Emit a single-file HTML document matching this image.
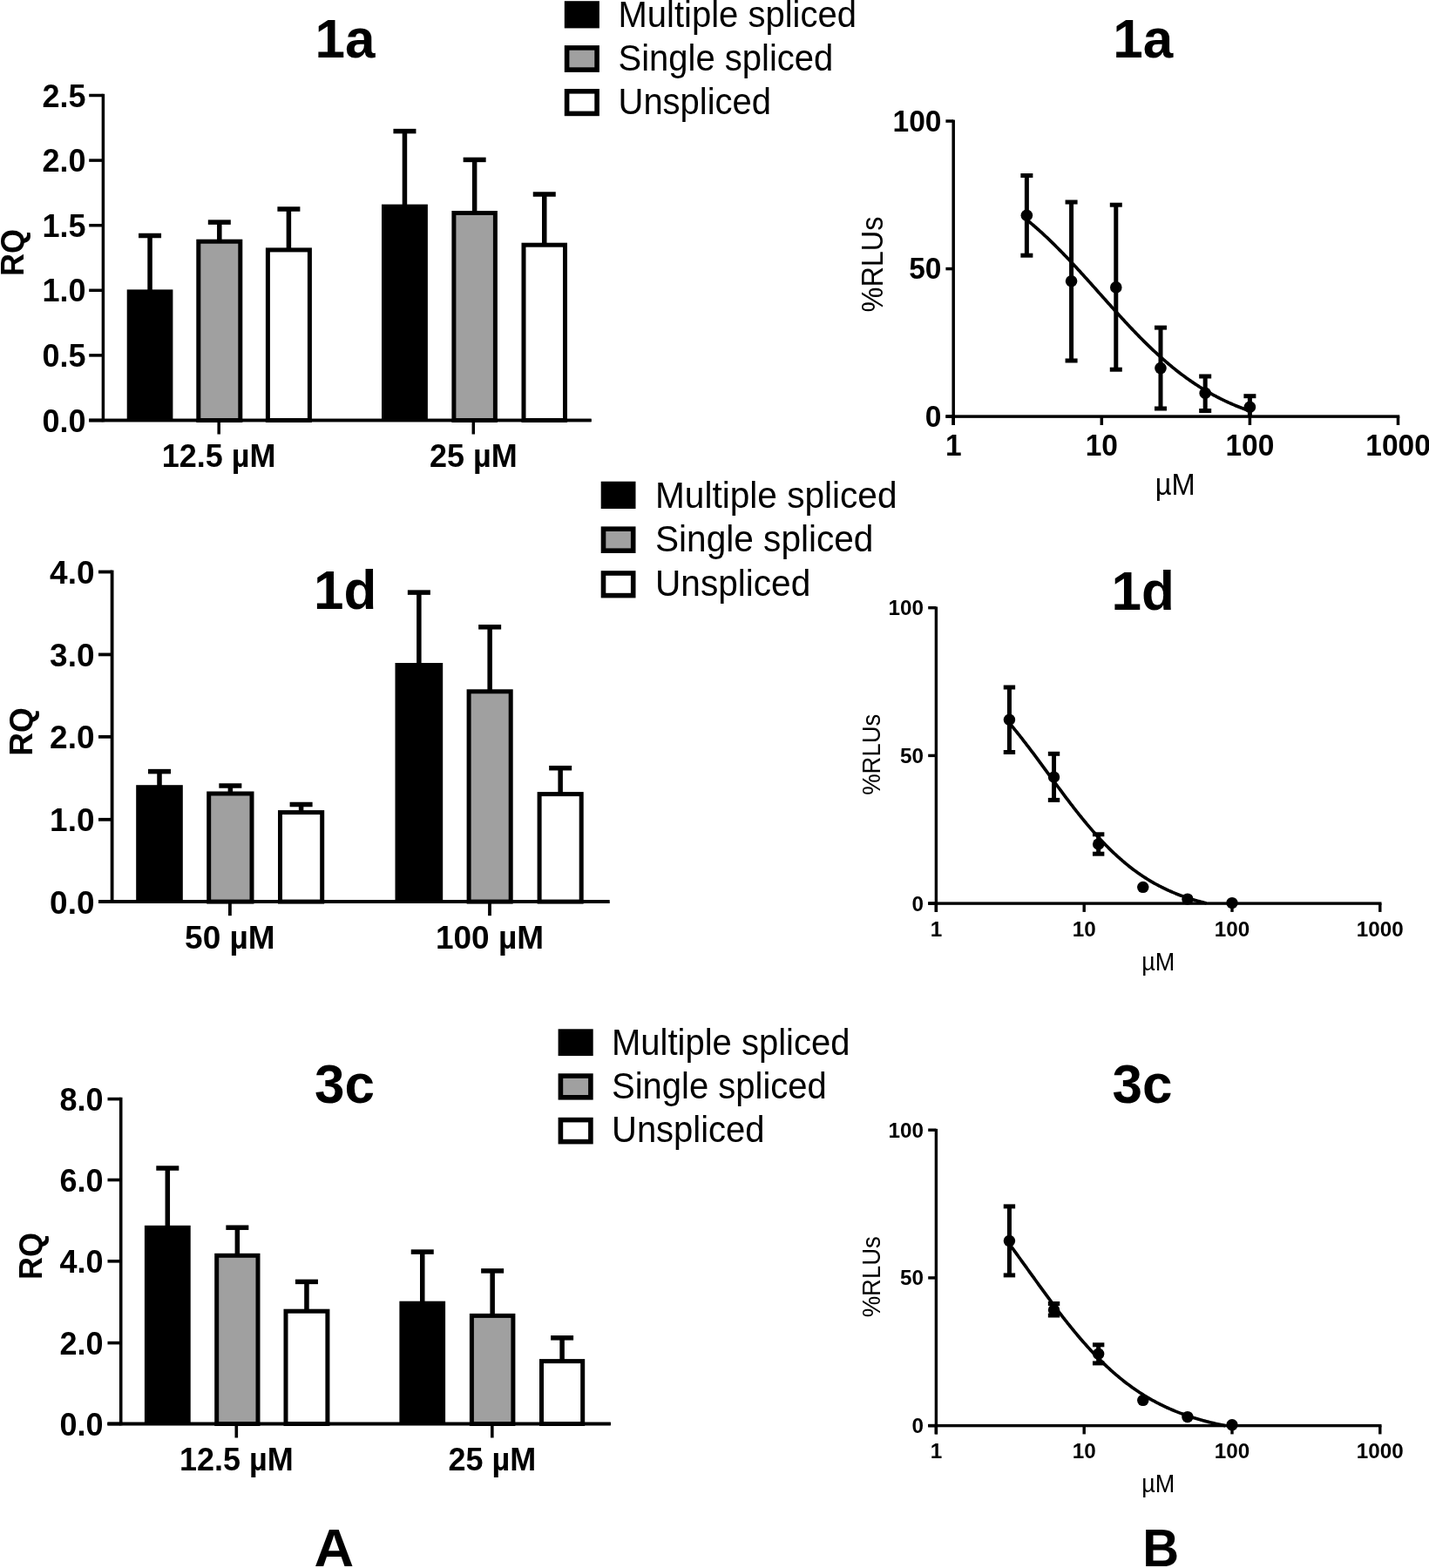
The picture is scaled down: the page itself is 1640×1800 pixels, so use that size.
<!DOCTYPE html>
<html><head><meta charset="utf-8"><title>Figure</title>
<style>html,body{margin:0;padding:0;background:#fff;width:1640px;height:1800px;overflow:hidden}svg{display:block;font-family:"Liberation Sans",sans-serif}</style>
</head><body>
<svg width="1640" height="1800" viewBox="0 0 1640 1800">
<rect width="1640" height="1800" fill="#fff"/>
<rect x="116.65" y="107.80" width="3.50" height="376.45"/>
<rect x="102.20" y="107.75" width="16.20" height="3.50"/>
<text transform="translate(98.50 122.50) scale(1.0 1.02)" font-size="36" font-weight="bold" text-anchor="end">2.5</text>
<rect x="102.20" y="182.35" width="16.20" height="3.50"/>
<text transform="translate(98.50 197.10) scale(1.0 1.02)" font-size="36" font-weight="bold" text-anchor="end">2.0</text>
<rect x="102.20" y="256.95" width="16.20" height="3.50"/>
<text transform="translate(98.50 271.70) scale(1.0 1.02)" font-size="36" font-weight="bold" text-anchor="end">1.5</text>
<rect x="102.20" y="331.55" width="16.20" height="3.50"/>
<text transform="translate(98.50 346.30) scale(1.0 1.02)" font-size="36" font-weight="bold" text-anchor="end">1.0</text>
<rect x="102.20" y="406.15" width="16.20" height="3.50"/>
<text transform="translate(98.50 420.90) scale(1.0 1.02)" font-size="36" font-weight="bold" text-anchor="end">0.5</text>
<rect x="102.20" y="480.75" width="16.20" height="3.50"/>
<text transform="translate(98.50 495.50) scale(1.0 1.02)" font-size="36" font-weight="bold" text-anchor="end">0.0</text>
<rect x="102.20" y="480.75" width="576.40" height="3.50"/>
<rect x="249.45" y="482.50" width="3.50" height="16.00"/>
<text transform="translate(251.20 536.00) scale(1.0 1.02)" font-size="36" font-weight="bold" text-anchor="middle">12.5 µM</text>
<rect x="541.55" y="482.50" width="3.50" height="16.00"/>
<text transform="translate(543.30 536.00) scale(1.0 1.02)" font-size="36" font-weight="bold" text-anchor="middle">25 µM</text>
<rect x="169.30" y="270.50" width="5.50" height="63.90"/>
<rect x="159.05" y="267.75" width="26.00" height="5.50"/>
<rect x="145.70" y="332.40" width="52.70" height="150.10"/>
<rect x="249.05" y="255.10" width="5.50" height="21.60"/>
<rect x="238.80" y="252.35" width="26.00" height="5.50"/>
<rect x="227.80" y="277.20" width="48.00" height="205.30" fill="#a0a0a0" stroke="#000" stroke-width="5"/>
<rect x="328.65" y="240.00" width="5.50" height="46.40"/>
<rect x="318.40" y="237.25" width="26.00" height="5.50"/>
<rect x="307.40" y="286.90" width="48.00" height="195.60" fill="#fff" stroke="#000" stroke-width="5"/>
<rect x="461.70" y="150.60" width="5.50" height="86.00"/>
<rect x="451.45" y="147.85" width="26.00" height="5.50"/>
<rect x="438.00" y="234.60" width="52.90" height="247.90"/>
<rect x="541.90" y="183.40" width="5.50" height="60.60"/>
<rect x="531.65" y="180.65" width="26.00" height="5.50"/>
<rect x="520.90" y="244.50" width="47.50" height="238.00" fill="#a0a0a0" stroke="#000" stroke-width="5"/>
<rect x="622.00" y="223.00" width="5.50" height="57.70"/>
<rect x="611.75" y="220.25" width="26.00" height="5.50"/>
<rect x="601.00" y="281.20" width="47.50" height="201.30" fill="#fff" stroke="#000" stroke-width="5"/>
<rect x="102.20" y="480.75" width="576.40" height="3.50"/>
<text transform="translate(27.10 290.10) rotate(-90) scale(1.0 1.02)" font-size="36" font-weight="bold" text-anchor="middle">RQ</text>
<text transform="translate(361.50 66.30) scale(1.0 1.03)" font-size="62" font-weight="bold" text-anchor="start">1a</text>
<rect x="126.70" y="654.60" width="3.80" height="382.40"/>
<rect x="113.00" y="654.60" width="15.60" height="3.80"/>
<text transform="translate(108.50 670.00) scale(1.0 1.02)" font-size="37" font-weight="bold" text-anchor="end">4.0</text>
<rect x="113.00" y="749.50" width="15.60" height="3.80"/>
<text transform="translate(108.50 764.90) scale(1.0 1.02)" font-size="37" font-weight="bold" text-anchor="end">3.0</text>
<rect x="113.00" y="843.90" width="15.60" height="3.80"/>
<text transform="translate(108.50 859.30) scale(1.0 1.02)" font-size="37" font-weight="bold" text-anchor="end">2.0</text>
<rect x="113.00" y="938.90" width="15.60" height="3.80"/>
<text transform="translate(108.50 954.30) scale(1.0 1.02)" font-size="37" font-weight="bold" text-anchor="end">1.0</text>
<rect x="113.00" y="1033.20" width="15.60" height="3.80"/>
<text transform="translate(108.50 1048.60) scale(1.0 1.02)" font-size="37" font-weight="bold" text-anchor="end">0.0</text>
<rect x="113.00" y="1033.20" width="586.50" height="3.80"/>
<rect x="262.00" y="1035.10" width="3.80" height="16.10"/>
<text transform="translate(263.90 1089.20) scale(1.0 1.02)" font-size="37" font-weight="bold" text-anchor="middle">50 µM</text>
<rect x="560.10" y="1035.10" width="3.80" height="16.10"/>
<text transform="translate(562.00 1089.20) scale(1.0 1.02)" font-size="37" font-weight="bold" text-anchor="middle">100 µM</text>
<rect x="180.25" y="885.60" width="5.50" height="17.60"/>
<rect x="170.00" y="882.85" width="26.00" height="5.50"/>
<rect x="156.20" y="901.20" width="53.60" height="133.90"/>
<rect x="261.60" y="902.00" width="5.50" height="8.50"/>
<rect x="251.35" y="899.25" width="26.00" height="5.50"/>
<rect x="239.70" y="911.00" width="49.30" height="124.10" fill="#a0a0a0" stroke="#000" stroke-width="5"/>
<rect x="342.85" y="923.50" width="5.50" height="8.60"/>
<rect x="332.60" y="920.75" width="26.00" height="5.50"/>
<rect x="321.50" y="932.60" width="48.20" height="102.50" fill="#fff" stroke="#000" stroke-width="5"/>
<rect x="478.10" y="680.10" width="5.50" height="82.90"/>
<rect x="467.85" y="677.35" width="26.00" height="5.50"/>
<rect x="453.50" y="761.00" width="54.70" height="274.10"/>
<rect x="559.40" y="719.80" width="5.50" height="73.50"/>
<rect x="549.15" y="717.05" width="26.00" height="5.50"/>
<rect x="538.10" y="793.80" width="48.10" height="241.30" fill="#a0a0a0" stroke="#000" stroke-width="5"/>
<rect x="640.40" y="881.70" width="5.50" height="29.40"/>
<rect x="630.15" y="878.95" width="26.00" height="5.50"/>
<rect x="619.10" y="911.60" width="48.10" height="123.50" fill="#fff" stroke="#000" stroke-width="5"/>
<rect x="113.00" y="1033.20" width="586.50" height="3.80"/>
<text transform="translate(36.80 839.90) rotate(-90) scale(1.0 1.02)" font-size="37" font-weight="bold" text-anchor="middle">RQ</text>
<text transform="translate(360.00 699.40) scale(1.0 1.03)" font-size="62" font-weight="bold" text-anchor="start">1d</text>
<rect x="136.90" y="1259.80" width="3.60" height="376.50"/>
<rect x="123.50" y="1259.80" width="15.20" height="3.60"/>
<text transform="translate(118.50 1274.80) scale(1.0 1.02)" font-size="36" font-weight="bold" text-anchor="end">8.0</text>
<rect x="123.50" y="1352.70" width="15.20" height="3.60"/>
<text transform="translate(118.50 1367.70) scale(1.0 1.02)" font-size="36" font-weight="bold" text-anchor="end">6.0</text>
<rect x="123.50" y="1446.00" width="15.20" height="3.60"/>
<text transform="translate(118.50 1461.00) scale(1.0 1.02)" font-size="36" font-weight="bold" text-anchor="end">4.0</text>
<rect x="123.50" y="1539.80" width="15.20" height="3.60"/>
<text transform="translate(118.50 1554.80) scale(1.0 1.02)" font-size="36" font-weight="bold" text-anchor="end">2.0</text>
<rect x="123.50" y="1632.70" width="15.20" height="3.60"/>
<text transform="translate(118.50 1647.70) scale(1.0 1.02)" font-size="36" font-weight="bold" text-anchor="end">0.0</text>
<rect x="123.50" y="1632.70" width="577.30" height="3.60"/>
<rect x="269.50" y="1634.50" width="3.60" height="16.00"/>
<text transform="translate(271.30 1688.00) scale(1.0 1.02)" font-size="36" font-weight="bold" text-anchor="middle">12.5 µM</text>
<rect x="563.00" y="1634.50" width="3.60" height="16.00"/>
<text transform="translate(564.80 1688.00) scale(1.0 1.02)" font-size="36" font-weight="bold" text-anchor="middle">25 µM</text>
<rect x="189.55" y="1341.00" width="5.50" height="67.80"/>
<rect x="179.30" y="1338.25" width="26.00" height="5.50"/>
<rect x="165.90" y="1406.80" width="52.80" height="227.70"/>
<rect x="269.60" y="1409.20" width="5.50" height="31.60"/>
<rect x="259.35" y="1406.45" width="26.00" height="5.50"/>
<rect x="248.70" y="1441.30" width="47.30" height="193.20" fill="#a0a0a0" stroke="#000" stroke-width="5"/>
<rect x="349.20" y="1471.40" width="5.50" height="33.30"/>
<rect x="338.95" y="1468.65" width="26.00" height="5.50"/>
<rect x="328.00" y="1505.20" width="47.90" height="129.30" fill="#fff" stroke="#000" stroke-width="5"/>
<rect x="482.00" y="1437.10" width="5.50" height="58.60"/>
<rect x="471.75" y="1434.35" width="26.00" height="5.50"/>
<rect x="458.40" y="1493.70" width="52.70" height="140.80"/>
<rect x="562.40" y="1458.90" width="5.50" height="51.00"/>
<rect x="552.15" y="1456.15" width="26.00" height="5.50"/>
<rect x="541.40" y="1510.40" width="47.50" height="124.10" fill="#a0a0a0" stroke="#000" stroke-width="5"/>
<rect x="642.35" y="1535.80" width="5.50" height="26.30"/>
<rect x="632.10" y="1533.05" width="26.00" height="5.50"/>
<rect x="621.50" y="1562.60" width="47.20" height="71.90" fill="#fff" stroke="#000" stroke-width="5"/>
<rect x="123.50" y="1632.70" width="577.30" height="3.60"/>
<text transform="translate(47.90 1442.10) rotate(-90) scale(1.0 1.02)" font-size="36" font-weight="bold" text-anchor="middle">RQ</text>
<text transform="translate(361.00 1266.30) scale(1.0 1.03)" font-size="62" font-weight="bold" text-anchor="start">3c</text>
<rect x="647.80" y="1.20" width="40.10" height="31.20"/>
<text transform="translate(709.50 31.30) scale(1.0 1.04)" font-size="40" text-anchor="start">Multiple spliced</text>
<rect x="650.60" y="54.90" width="34.50" height="25.20" fill="#a0a0a0" stroke="#000" stroke-width="5.6"/>
<text transform="translate(709.50 81.10) scale(1.0 1.04)" font-size="40" text-anchor="start">Single spliced</text>
<rect x="650.60" y="104.80" width="34.50" height="25.60" fill="#fff" stroke="#000" stroke-width="5.6"/>
<text transform="translate(709.50 130.90) scale(1.0 1.04)" font-size="40" text-anchor="start">Unspliced</text>
<rect x="689.70" y="552.70" width="39.80" height="31.30"/>
<text transform="translate(752.00 582.90) scale(1.0 1.04)" font-size="40.6" text-anchor="start">Multiple spliced</text>
<rect x="692.50" y="607.20" width="34.20" height="25.00" fill="#a0a0a0" stroke="#000" stroke-width="5.6"/>
<text transform="translate(752.00 632.70) scale(1.0 1.04)" font-size="40.6" text-anchor="start">Single spliced</text>
<rect x="692.50" y="658.00" width="34.20" height="25.60" fill="#fff" stroke="#000" stroke-width="5.6"/>
<text transform="translate(752.00 683.70) scale(1.0 1.04)" font-size="40.6" text-anchor="start">Unspliced</text>
<rect x="640.60" y="1181.30" width="40.10" height="30.80"/>
<text transform="translate(702.00 1210.50) scale(1.0 1.04)" font-size="40" text-anchor="start">Multiple spliced</text>
<rect x="643.40" y="1235.10" width="34.50" height="24.70" fill="#a0a0a0" stroke="#000" stroke-width="5.6"/>
<text transform="translate(702.00 1260.80) scale(1.0 1.04)" font-size="40" text-anchor="start">Single spliced</text>
<rect x="643.40" y="1285.60" width="34.50" height="25.00" fill="#fff" stroke="#000" stroke-width="5.6"/>
<text transform="translate(702.00 1311.10) scale(1.0 1.04)" font-size="40" text-anchor="start">Unspliced</text>
<rect x="1092.45" y="137.60" width="3.50" height="350.40"/>
<rect x="1085.40" y="137.28" width="8.80" height="3.50"/>
<text transform="translate(1080.50 150.83) scale(1.0 1.02)" font-size="33.5" font-weight="bold" text-anchor="end">100</text>
<rect x="1085.40" y="306.82" width="8.80" height="3.50"/>
<text transform="translate(1080.50 320.37) scale(1.0 1.02)" font-size="33.5" font-weight="bold" text-anchor="end">50</text>
<rect x="1085.40" y="476.35" width="8.80" height="3.50"/>
<text transform="translate(1080.50 489.90) scale(1.0 1.02)" font-size="33.5" font-weight="bold" text-anchor="end">0</text>
<rect x="1085.40" y="476.35" width="520.85" height="3.50"/>
<rect x="1092.45" y="478.10" width="3.50" height="9.90"/>
<text transform="translate(1094.20 523.30) scale(1.0 1.02)" font-size="33.5" font-weight="bold" text-anchor="middle">1</text>
<rect x="1262.55" y="478.10" width="3.50" height="9.90"/>
<text transform="translate(1264.30 523.30) scale(1.0 1.02)" font-size="33.5" font-weight="bold" text-anchor="middle">10</text>
<rect x="1432.65" y="478.10" width="3.50" height="9.90"/>
<text transform="translate(1434.40 523.30) scale(1.0 1.02)" font-size="33.5" font-weight="bold" text-anchor="middle">100</text>
<rect x="1602.75" y="478.10" width="3.50" height="9.90"/>
<text transform="translate(1604.50 523.30) scale(1.0 1.02)" font-size="33.5" font-weight="bold" text-anchor="middle">1000</text>
<path d="M1178.37,252.30 L1179.66,253.35 L1180.95,254.41 L1182.23,255.48 L1183.52,256.57 L1184.81,257.66 L1186.09,258.76 L1187.38,259.87 L1188.67,260.99 L1189.95,262.12 L1191.24,263.26 L1192.53,264.41 L1193.81,265.57 L1195.10,266.74 L1196.39,267.91 L1197.67,269.10 L1198.96,270.29 L1200.25,271.50 L1201.53,272.71 L1202.82,273.93 L1204.11,275.16 L1205.39,276.40 L1206.68,277.64 L1207.96,278.90 L1209.25,280.16 L1210.54,281.43 L1211.82,282.71 L1213.11,283.99 L1214.40,285.28 L1215.68,286.58 L1216.97,287.89 L1218.26,289.21 L1219.54,290.53 L1220.83,291.86 L1222.12,293.19 L1223.40,294.53 L1224.69,295.88 L1225.98,297.24 L1227.26,298.60 L1228.55,299.96 L1229.84,301.33 L1231.12,302.71 L1232.41,304.09 L1233.70,305.48 L1234.98,306.87 L1236.27,308.27 L1237.56,309.67 L1238.84,311.08 L1240.13,312.49 L1241.42,313.90 L1242.70,315.32 L1243.99,316.74 L1245.28,318.16 L1246.56,319.59 L1247.85,321.02 L1249.13,322.45 L1250.42,323.88 L1251.71,325.32 L1252.99,326.76 L1254.28,328.20 L1255.57,329.64 L1256.85,331.08 L1258.14,332.52 L1259.43,333.97 L1260.71,335.41 L1262.00,336.86 L1263.29,338.30 L1264.57,339.75 L1265.86,341.19 L1267.15,342.63 L1268.43,344.08 L1269.72,345.52 L1271.01,346.96 L1272.29,348.40 L1273.58,349.83 L1274.87,351.27 L1276.15,352.70 L1277.44,354.13 L1278.73,355.56 L1280.01,356.98 L1281.30,358.41 L1282.59,359.82 L1283.87,361.24 L1285.16,362.65 L1286.45,364.06 L1287.73,365.46 L1289.02,366.86 L1290.30,368.25 L1291.59,369.64 L1292.88,371.03 L1294.16,372.40 L1295.45,373.78 L1296.74,375.15 L1298.02,376.51 L1299.31,377.87 L1300.60,379.22 L1301.88,380.56 L1303.17,381.90 L1304.46,383.23 L1305.74,384.55 L1307.03,385.87 L1308.32,387.18 L1309.60,388.48 L1310.89,389.78 L1312.18,391.07 L1313.46,392.35 L1314.75,393.62 L1316.04,394.89 L1317.32,396.14 L1318.61,397.39 L1319.90,398.63 L1321.18,399.87 L1322.47,401.09 L1323.76,402.30 L1325.04,403.51 L1326.33,404.71 L1327.62,405.90 L1328.90,407.08 L1330.19,408.25 L1331.47,409.41 L1332.76,410.56 L1334.05,411.71 L1335.33,412.84 L1336.62,413.96 L1337.91,415.08 L1339.19,416.18 L1340.48,417.28 L1341.77,418.37 L1343.05,419.44 L1344.34,420.51 L1345.63,421.57 L1346.91,422.61 L1348.20,423.65 L1349.49,424.68 L1350.77,425.70 L1352.06,426.70 L1353.35,427.70 L1354.63,428.69 L1355.92,429.67 L1357.21,430.63 L1358.49,431.59 L1359.78,432.54 L1361.07,433.48 L1362.35,434.41 L1363.64,435.33 L1364.93,436.24 L1366.21,437.13 L1367.50,438.02 L1368.79,438.90 L1370.07,439.77 L1371.36,440.63 L1372.64,441.48 L1373.93,442.32 L1375.22,443.15 L1376.50,443.97 L1377.79,444.78 L1379.08,445.58 L1380.36,446.38 L1381.65,447.16 L1382.94,447.93 L1384.22,448.70 L1385.51,449.45 L1386.80,450.20 L1388.08,450.93 L1389.37,451.66 L1390.66,452.38 L1391.94,453.08 L1393.23,453.78 L1394.52,454.47 L1395.80,455.16 L1397.09,455.83 L1398.38,456.49 L1399.66,457.15 L1400.95,457.80 L1402.24,458.43 L1403.52,459.06 L1404.81,459.69 L1406.10,460.30 L1407.38,460.90 L1408.67,461.50 L1409.96,462.09 L1411.24,462.67 L1412.53,463.24 L1413.81,463.81 L1415.10,464.36 L1416.39,464.91 L1417.67,465.45 L1418.96,465.99 L1420.25,466.51 L1421.53,467.03 L1422.82,467.54 L1424.11,468.05 L1425.39,468.55 L1426.68,469.03 L1427.97,469.52 L1429.25,469.99 L1430.54,470.46 L1431.83,470.92 L1433.11,471.38 L1434.40,471.83" fill="none" stroke="#000" stroke-width="3.7" stroke-linejoin="round"/>
<rect x="1175.87" y="201.50" width="5.00" height="91.70"/>
<rect x="1171.37" y="199.00" width="14.00" height="5.00"/>
<rect x="1171.37" y="290.70" width="14.00" height="5.00"/>
<circle cx="1178.37" cy="247.30" r="6.8"/>
<rect x="1227.08" y="232.00" width="5.00" height="182.00"/>
<rect x="1222.58" y="229.50" width="14.00" height="5.00"/>
<rect x="1222.58" y="411.50" width="14.00" height="5.00"/>
<circle cx="1229.58" cy="322.70" r="6.8"/>
<rect x="1278.28" y="235.20" width="5.00" height="189.00"/>
<rect x="1273.78" y="232.70" width="14.00" height="5.00"/>
<rect x="1273.78" y="421.70" width="14.00" height="5.00"/>
<circle cx="1280.78" cy="329.90" r="6.8"/>
<rect x="1329.49" y="376.10" width="5.00" height="92.90"/>
<rect x="1324.99" y="373.60" width="14.00" height="5.00"/>
<rect x="1324.99" y="466.50" width="14.00" height="5.00"/>
<circle cx="1331.99" cy="422.60" r="6.8"/>
<rect x="1380.69" y="432.00" width="5.00" height="39.50"/>
<rect x="1376.19" y="429.50" width="14.00" height="5.00"/>
<rect x="1376.19" y="469.00" width="14.00" height="5.00"/>
<circle cx="1383.19" cy="451.20" r="6.8"/>
<rect x="1431.90" y="454.70" width="5.00" height="23.40"/>
<rect x="1427.40" y="452.20" width="14.00" height="5.00"/>
<circle cx="1434.40" cy="467.30" r="6.8"/>
<text transform="translate(1013.30 303.50) rotate(-90) scale(1.0 1.065)" font-size="32.4" text-anchor="middle">%RLUs</text>
<text transform="translate(1348.60 568.00) scale(1.0 1.065)" font-size="32.6" text-anchor="middle">µM</text>
<text transform="translate(1277.20 66.30) scale(1.0 1.03)" font-size="62" font-weight="bold" text-anchor="start">1a</text>
<rect x="1072.70" y="696.50" width="3.40" height="350.40"/>
<rect x="1065.20" y="696.00" width="9.20" height="3.40"/>
<text transform="translate(1060.00 706.20) scale(1.0 1.02)" font-size="24.3" font-weight="bold" text-anchor="end">100</text>
<rect x="1065.20" y="865.70" width="9.20" height="3.40"/>
<text transform="translate(1060.00 875.90) scale(1.0 1.02)" font-size="24.3" font-weight="bold" text-anchor="end">50</text>
<rect x="1065.20" y="1035.40" width="9.20" height="3.40"/>
<text transform="translate(1060.00 1045.60) scale(1.0 1.02)" font-size="24.3" font-weight="bold" text-anchor="end">0</text>
<rect x="1065.20" y="1035.40" width="520.30" height="3.40"/>
<rect x="1072.70" y="1037.10" width="3.40" height="9.80"/>
<text transform="translate(1074.40 1074.50) scale(1.0 1.02)" font-size="24.3" font-weight="bold" text-anchor="middle">1</text>
<rect x="1242.50" y="1037.10" width="3.40" height="9.80"/>
<text transform="translate(1244.20 1074.50) scale(1.0 1.02)" font-size="24.3" font-weight="bold" text-anchor="middle">10</text>
<rect x="1412.30" y="1037.10" width="3.40" height="9.80"/>
<text transform="translate(1414.00 1074.50) scale(1.0 1.02)" font-size="24.3" font-weight="bold" text-anchor="middle">100</text>
<rect x="1582.10" y="1037.10" width="3.40" height="9.80"/>
<text transform="translate(1583.80 1074.50) scale(1.0 1.02)" font-size="24.3" font-weight="bold" text-anchor="middle">1000</text>
<path d="M1158.43,830.06 L1159.71,831.59 L1160.99,833.13 L1162.28,834.68 L1163.56,836.24 L1164.85,837.81 L1166.13,839.40 L1167.42,840.99 L1168.70,842.59 L1169.98,844.21 L1171.27,845.83 L1172.55,847.46 L1173.84,849.11 L1175.12,850.76 L1176.41,852.42 L1177.69,854.08 L1178.97,855.76 L1180.26,857.44 L1181.54,859.13 L1182.83,860.82 L1184.11,862.52 L1185.40,864.23 L1186.68,865.94 L1187.96,867.66 L1189.25,869.38 L1190.53,871.11 L1191.82,872.84 L1193.10,874.58 L1194.39,876.32 L1195.67,878.06 L1196.95,879.80 L1198.24,881.55 L1199.52,883.29 L1200.81,885.04 L1202.09,886.79 L1203.38,888.54 L1204.66,890.29 L1205.94,892.04 L1207.23,893.79 L1208.51,895.54 L1209.80,897.28 L1211.08,899.03 L1212.37,900.77 L1213.65,902.51 L1214.93,904.25 L1216.22,905.98 L1217.50,907.71 L1218.79,909.43 L1220.07,911.15 L1221.36,912.87 L1222.64,914.58 L1223.92,916.28 L1225.21,917.98 L1226.49,919.67 L1227.78,921.35 L1229.06,923.03 L1230.35,924.70 L1231.63,926.36 L1232.91,928.02 L1234.20,929.66 L1235.48,931.30 L1236.77,932.92 L1238.05,934.54 L1239.34,936.15 L1240.62,937.75 L1241.90,939.34 L1243.19,940.91 L1244.47,942.48 L1245.76,944.04 L1247.04,945.58 L1248.33,947.11 L1249.61,948.63 L1250.89,950.14 L1252.18,951.64 L1253.46,953.13 L1254.75,954.60 L1256.03,956.06 L1257.32,957.51 L1258.60,958.94 L1259.88,960.36 L1261.17,961.77 L1262.45,963.16 L1263.74,964.54 L1265.02,965.91 L1266.31,967.26 L1267.59,968.60 L1268.87,969.93 L1270.16,971.24 L1271.44,972.54 L1272.73,973.82 L1274.01,975.09 L1275.30,976.34 L1276.58,977.58 L1277.86,978.81 L1279.15,980.02 L1280.43,981.22 L1281.72,982.40 L1283.00,983.57 L1284.29,984.72 L1285.57,985.86 L1286.85,986.98 L1288.14,988.09 L1289.42,989.19 L1290.71,990.27 L1291.99,991.34 L1293.28,992.39 L1294.56,993.43 L1295.84,994.45 L1297.13,995.47 L1298.41,996.46 L1299.70,997.44 L1300.98,998.41 L1302.27,999.37 L1303.55,1000.31 L1304.84,1001.23 L1306.12,1002.15 L1307.40,1003.05 L1308.69,1003.94 L1309.97,1004.81 L1311.26,1005.67 L1312.54,1006.52 L1313.83,1007.35 L1315.11,1008.17 L1316.39,1008.98 L1317.68,1009.77 L1318.96,1010.56 L1320.25,1011.33 L1321.53,1012.09 L1322.82,1012.83 L1324.10,1013.57 L1325.38,1014.29 L1326.67,1015.00 L1327.95,1015.70 L1329.24,1016.39 L1330.52,1017.06 L1331.81,1017.73 L1333.09,1018.38 L1334.37,1019.02 L1335.66,1019.65 L1336.94,1020.27 L1338.23,1020.88 L1339.51,1021.48 L1340.80,1022.07 L1342.08,1022.65 L1343.36,1023.22 L1344.65,1023.78 L1345.93,1024.33 L1347.22,1024.87 L1348.50,1025.40 L1349.79,1025.92 L1351.07,1026.43 L1352.35,1026.93 L1353.64,1027.42 L1354.92,1027.91 L1356.21,1028.38 L1357.49,1028.85 L1358.78,1029.31 L1360.06,1029.76 L1361.34,1030.20 L1362.63,1030.63 L1363.91,1031.06 L1365.20,1031.47 L1366.48,1031.88 L1367.77,1032.29 L1369.05,1032.68 L1370.33,1033.07 L1371.62,1033.45 L1372.90,1033.82 L1374.19,1034.19 L1375.47,1034.54 L1376.76,1034.90 L1378.04,1035.24 L1379.32,1035.58 L1380.61,1035.91 L1381.89,1036.24 L1383.18,1036.56 L1384.46,1036.87" fill="none" stroke="#000" stroke-width="3.7" stroke-linejoin="round"/>
<rect x="1155.93" y="789.00" width="5.00" height="74.50"/>
<rect x="1151.73" y="786.50" width="13.40" height="5.00"/>
<rect x="1151.73" y="861.00" width="13.40" height="5.00"/>
<circle cx="1158.43" cy="826.30" r="6.7"/>
<rect x="1207.04" y="865.30" width="5.00" height="53.10"/>
<rect x="1202.84" y="862.80" width="13.40" height="5.00"/>
<rect x="1202.84" y="915.90" width="13.40" height="5.00"/>
<circle cx="1209.54" cy="892.10" r="6.7"/>
<rect x="1258.16" y="957.80" width="5.00" height="22.40"/>
<rect x="1253.96" y="955.30" width="13.40" height="5.00"/>
<rect x="1253.96" y="977.70" width="13.40" height="5.00"/>
<circle cx="1260.66" cy="969.00" r="6.7"/>
<circle cx="1311.77" cy="1018.40" r="6.7"/>
<circle cx="1362.89" cy="1032.10" r="6.7"/>
<circle cx="1414.00" cy="1036.60" r="6.7"/>
<text transform="translate(1010.00 866.30) rotate(-90) scale(1.0 1.065)" font-size="27.5" text-anchor="middle">%RLUs</text>
<text transform="translate(1329.20 1113.90) scale(1.0 1.065)" font-size="27" text-anchor="middle">µM</text>
<text transform="translate(1275.50 700.10) scale(1.0 1.03)" font-size="62" font-weight="bold" text-anchor="start">1d</text>
<rect x="1072.70" y="1295.90" width="3.40" height="350.50"/>
<rect x="1065.20" y="1295.50" width="9.20" height="3.40"/>
<text transform="translate(1060.00 1305.70) scale(1.0 1.02)" font-size="24.3" font-weight="bold" text-anchor="end">100</text>
<rect x="1065.20" y="1465.20" width="9.20" height="3.40"/>
<text transform="translate(1060.00 1475.40) scale(1.0 1.02)" font-size="24.3" font-weight="bold" text-anchor="end">50</text>
<rect x="1065.20" y="1634.90" width="9.20" height="3.40"/>
<text transform="translate(1060.00 1645.10) scale(1.0 1.02)" font-size="24.3" font-weight="bold" text-anchor="end">0</text>
<rect x="1065.20" y="1634.90" width="520.30" height="3.40"/>
<rect x="1072.70" y="1636.60" width="3.40" height="9.80"/>
<text transform="translate(1074.40 1674.00) scale(1.0 1.02)" font-size="24.3" font-weight="bold" text-anchor="middle">1</text>
<rect x="1242.50" y="1636.60" width="3.40" height="9.80"/>
<text transform="translate(1244.20 1674.00) scale(1.0 1.02)" font-size="24.3" font-weight="bold" text-anchor="middle">10</text>
<rect x="1412.30" y="1636.60" width="3.40" height="9.80"/>
<text transform="translate(1414.00 1674.00) scale(1.0 1.02)" font-size="24.3" font-weight="bold" text-anchor="middle">100</text>
<rect x="1582.10" y="1636.60" width="3.40" height="9.80"/>
<text transform="translate(1583.80 1674.00) scale(1.0 1.02)" font-size="24.3" font-weight="bold" text-anchor="middle">1000</text>
<path d="M1158.43,1428.18 L1159.71,1429.92 L1160.99,1431.67 L1162.28,1433.42 L1163.56,1435.17 L1164.85,1436.93 L1166.13,1438.69 L1167.42,1440.46 L1168.70,1442.23 L1169.98,1444.00 L1171.27,1445.78 L1172.55,1447.56 L1173.84,1449.34 L1175.12,1451.12 L1176.41,1452.90 L1177.69,1454.69 L1178.97,1456.47 L1180.26,1458.26 L1181.54,1460.05 L1182.83,1461.84 L1184.11,1463.62 L1185.40,1465.41 L1186.68,1467.19 L1187.96,1468.98 L1189.25,1470.76 L1190.53,1472.54 L1191.82,1474.32 L1193.10,1476.09 L1194.39,1477.87 L1195.67,1479.64 L1196.95,1481.40 L1198.24,1483.16 L1199.52,1484.92 L1200.81,1486.68 L1202.09,1488.43 L1203.38,1490.17 L1204.66,1491.91 L1205.94,1493.64 L1207.23,1495.37 L1208.51,1497.09 L1209.80,1498.81 L1211.08,1500.52 L1212.37,1502.22 L1213.65,1503.92 L1214.93,1505.60 L1216.22,1507.28 L1217.50,1508.96 L1218.79,1510.62 L1220.07,1512.28 L1221.36,1513.93 L1222.64,1515.56 L1223.92,1517.19 L1225.21,1518.81 L1226.49,1520.43 L1227.78,1522.03 L1229.06,1523.62 L1230.35,1525.20 L1231.63,1526.77 L1232.91,1528.34 L1234.20,1529.89 L1235.48,1531.43 L1236.77,1532.96 L1238.05,1534.48 L1239.34,1535.98 L1240.62,1537.48 L1241.90,1538.96 L1243.19,1540.44 L1244.47,1541.90 L1245.76,1543.35 L1247.04,1544.79 L1248.33,1546.21 L1249.61,1547.63 L1250.89,1549.03 L1252.18,1550.42 L1253.46,1551.80 L1254.75,1553.16 L1256.03,1554.51 L1257.32,1555.85 L1258.60,1557.18 L1259.88,1558.49 L1261.17,1559.80 L1262.45,1561.08 L1263.74,1562.36 L1265.02,1563.62 L1266.31,1564.87 L1267.59,1566.11 L1268.87,1567.34 L1270.16,1568.55 L1271.44,1569.75 L1272.73,1570.93 L1274.01,1572.11 L1275.30,1573.27 L1276.58,1574.41 L1277.86,1575.55 L1279.15,1576.67 L1280.43,1577.78 L1281.72,1578.88 L1283.00,1579.96 L1284.29,1581.03 L1285.57,1582.09 L1286.85,1583.13 L1288.14,1584.16 L1289.42,1585.18 L1290.71,1586.19 L1291.99,1587.19 L1293.28,1588.17 L1294.56,1589.14 L1295.84,1590.10 L1297.13,1591.04 L1298.41,1591.98 L1299.70,1592.90 L1300.98,1593.81 L1302.27,1594.70 L1303.55,1595.59 L1304.84,1596.46 L1306.12,1597.33 L1307.40,1598.18 L1308.69,1599.02 L1309.97,1599.84 L1311.26,1600.66 L1312.54,1601.47 L1313.83,1602.26 L1315.11,1603.04 L1316.39,1603.81 L1317.68,1604.58 L1318.96,1605.33 L1320.25,1606.07 L1321.53,1606.79 L1322.82,1607.51 L1324.10,1608.22 L1325.38,1608.92 L1326.67,1609.61 L1327.95,1610.28 L1329.24,1610.95 L1330.52,1611.61 L1331.81,1612.26 L1333.09,1612.90 L1334.37,1613.52 L1335.66,1614.14 L1336.94,1614.75 L1338.23,1615.35 L1339.51,1615.95 L1340.80,1616.53 L1342.08,1617.10 L1343.36,1617.67 L1344.65,1618.22 L1345.93,1618.77 L1347.22,1619.31 L1348.50,1619.84 L1349.79,1620.36 L1351.07,1620.88 L1352.35,1621.38 L1353.64,1621.88 L1354.92,1622.37 L1356.21,1622.85 L1357.49,1623.33 L1358.78,1623.80 L1360.06,1624.25 L1361.34,1624.71 L1362.63,1625.15 L1363.91,1625.59 L1365.20,1626.02 L1366.48,1626.44 L1367.77,1626.86 L1369.05,1627.27 L1370.33,1627.67 L1371.62,1628.07 L1372.90,1628.46 L1374.19,1628.84 L1375.47,1629.22 L1376.76,1629.59 L1378.04,1629.96 L1379.32,1630.32 L1380.61,1630.67 L1381.89,1631.02 L1383.18,1631.36 L1384.46,1631.69 L1385.75,1632.02 L1387.03,1632.35 L1388.31,1632.67 L1389.60,1632.98 L1390.88,1633.29 L1392.17,1633.59 L1393.45,1633.89 L1394.74,1634.18 L1396.02,1634.47 L1397.30,1634.75 L1398.59,1635.03 L1399.87,1635.30 L1401.16,1635.57 L1402.44,1635.84 L1403.73,1636.09 L1405.01,1636.35 L1406.29,1636.60" fill="none" stroke="#000" stroke-width="3.7" stroke-linejoin="round"/>
<rect x="1155.93" y="1384.90" width="5.00" height="79.00"/>
<rect x="1151.73" y="1382.40" width="13.40" height="5.00"/>
<rect x="1151.73" y="1461.40" width="13.40" height="5.00"/>
<circle cx="1158.43" cy="1424.50" r="6.7"/>
<rect x="1207.04" y="1496.50" width="5.00" height="13.50"/>
<rect x="1202.84" y="1494.00" width="13.40" height="5.00"/>
<rect x="1202.84" y="1507.50" width="13.40" height="5.00"/>
<circle cx="1209.54" cy="1503.70" r="6.7"/>
<rect x="1258.16" y="1543.80" width="5.00" height="21.10"/>
<rect x="1253.96" y="1541.30" width="13.40" height="5.00"/>
<rect x="1253.96" y="1562.40" width="13.40" height="5.00"/>
<circle cx="1260.66" cy="1554.30" r="6.7"/>
<circle cx="1311.77" cy="1607.40" r="6.7"/>
<circle cx="1362.89" cy="1626.60" r="6.7"/>
<circle cx="1414.00" cy="1635.70" r="6.7"/>
<text transform="translate(1010.00 1465.80) rotate(-90) scale(1.0 1.065)" font-size="27.5" text-anchor="middle">%RLUs</text>
<text transform="translate(1329.20 1713.40) scale(1.0 1.065)" font-size="27" text-anchor="middle">µM</text>
<text transform="translate(1276.50 1266.30) scale(1.0 1.03)" font-size="62" font-weight="bold" text-anchor="start">3c</text>
<text transform="translate(383.20 1798.40) scale(1.09 1.04)" font-size="58" font-weight="bold" text-anchor="middle">A</text>
<text transform="translate(1332.20 1798.40) scale(1.0 1.04)" font-size="58" font-weight="bold" text-anchor="middle">B</text>
</svg>
</body></html>
